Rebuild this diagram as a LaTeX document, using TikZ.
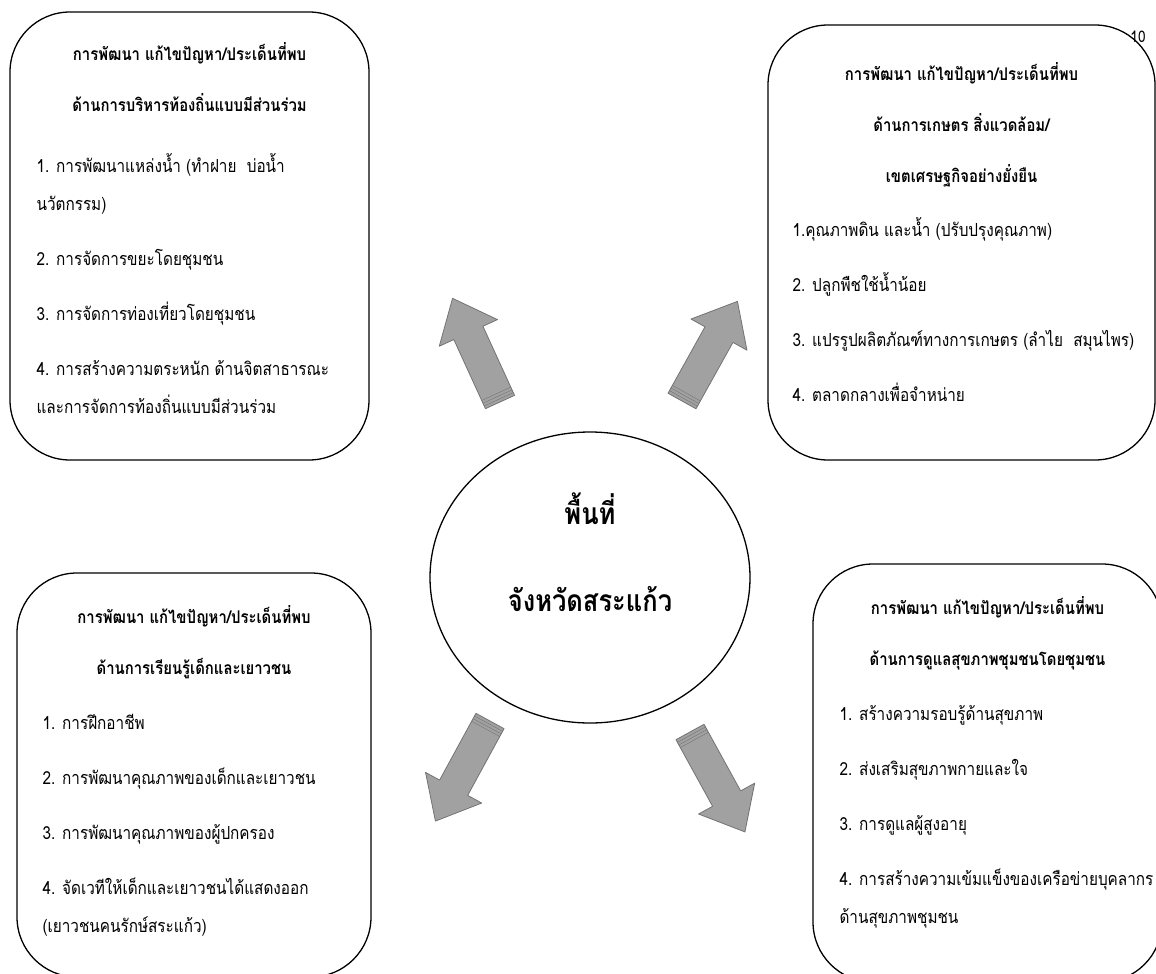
\documentclass[tikz,border=0pt]{standalone}
\usepackage{fontspec}
\setmainfont[Script=Thai, FakeStretch=0.85]{Loma}
\usetikzlibrary{positioning,shapes.geometric,calc}

\begin{document}
\begin{tikzpicture}[x=1pt, y=-1pt, node distance=20pt, line join=round,
    panel/.style={draw, rectangle, rounded corners=60pt, line width=1.3pt, inner sep=0pt},
    headtext/.style={align=center, inner sep=0pt, font=\bfseries\fontsize{17.5}{51}\selectfont},
    itemtext/.style={align=left, inner sep=0pt, font=\fontsize{18}{38}\selectfont},
    area/.style={draw, ellipse, line width=1.3pt, inner sep=0pt},
    areatext/.style={align=center, inner sep=0pt, font=\bfseries\fontsize{30}{60}\selectfont},
    outarrow/.pic={
        \draw[fill=black!37, draw=black!55, line width=0.8pt]
            (0,-16) -- (76,-16) -- (76,-32) -- (114,0) -- (76,32) -- (76,16) -- (0,16) -- cycle;
        \draw[black!55, line width=0.4pt] (3,-16) -- (3,16) (6,-16) -- (6,16) (9,-16) -- (9,16);
    }]
    \useasboundingbox (0,0) rectangle (1156,974);

    % Nodes
    \node[inner sep=0pt, font=\fontsize{16}{16}\selectfont] (pagenum) at (1138,37) {10};

    \node[panel, minimum width=359pt, minimum height=448pt] (admin) at (189.5,236) {};
    \node[headtext, below=31pt of admin.north] (adminhead) {การพัฒนา แก้ไขปัญหา/ประเด็นที่พบ\\ด้านการบริหารท้องถิ่นแบบมีส่วนร่วม};
    \node[itemtext, below right=142pt and 27pt of admin.north west] (adminlist) {1. การพัฒนาแหล่งน้ำ (ทำฝาย\ \ บ่อน้ำ\\นวัตกรรม)\\[17pt]2. การจัดการขยะโดยชุมชน\\[17pt]3. การจัดการท่องเที่ยวโดยชุมชน\\[17pt]4. การสร้างความตระหนัก ด้านจิตสาธารณะ\\และการจัดการท้องถิ่นแบบมีส่วนร่วม};

    \node[panel, minimum width=387pt, minimum height=435pt] (farm) at (961.5,242.5) {};
    \node[headtext, below=38pt of farm.north] (farmhead) {การพัฒนา แก้ไขปัญหา/ประเด็นที่พบ\\ด้านการเกษตร สิ่งแวดล้อม/\\เขตเศรษฐกิจอย่างยั่งยืน};
    \node[itemtext, below right=193pt and 25pt of farm.north west] (farmlist) {1.คุณภาพดิน และน้ำ (ปรับปรุงคุณภาพ)\\[17pt]2. ปลูกพืชใช้น้ำน้อย\\[17pt]3. แปรรูปผลิตภัณฑ์ทางการเกษตร (ลำไย\ \ สมุนไพร)\\[17pt]4. ตลาดกลางเพื่อจำหน่าย};

    \node[panel, minimum width=354pt, minimum height=404pt] (youth) at (194,775) {};
    \node[headtext, below=33pt of youth.north] (youthhead) {การพัฒนา แก้ไขปัญหา/ประเด็นที่พบ\\ด้านการเรียนรู้เด็กและเยาวชน};
    \node[itemtext, below right=142pt and 26pt of youth.north west] (youthlist) {1. การฝึกอาชีพ\\[17pt]2. การพัฒนาคุณภาพของเด็กและเยาวชน\\[17pt]3. การพัฒนาคุณภาพของผู้ปกครอง\\[17pt]4. จัดเวทีให้เด็กและเยาวชนได้แสดงออก\\(เยาวชนคนรักษ์สระแก้ว)};

    \node[panel, minimum width=349pt, minimum height=418pt] (health) at (987.5,773) {};
    \node[headtext, below=33pt of health.north] (healthhead) {การพัฒนา แก้ไขปัญหา/ประเด็นที่พบ\\ด้านการดูแลสุขภาพชุมชนโดยชุมชน};
    \node[itemtext, below right=142pt and 27pt of health.north west] (healthlist) {1. สร้างความรอบรู้ด้านสุขภาพ\\[17pt]2. ส่งเสริมสุขภาพกายและใจ\\[17pt]3. การดูแลผู้สูงอายุ\\[17pt]4. การสร้างความเข้มแข็งของเครือข่ายบุคลากร\\ด้านสุขภาพชุมชน};

    \node[area, minimum width=320pt, minimum height=291pt] (province) at (590,577.5) {};
    \node[areatext] (provincename) at (590,552) {พื้นที่\\[27pt]จังหวัดสระแก้ว};

    % Arrows
    \pic[rotate=114.6] at (500,402) {outarrow};
    \pic[rotate=60.9] at (682,401) {outarrow};
    \pic[rotate=-118.6] at (490,721) {outarrow};
    \pic[rotate=-61.2] at (690,732) {outarrow};
\end{tikzpicture}
\end{document}
